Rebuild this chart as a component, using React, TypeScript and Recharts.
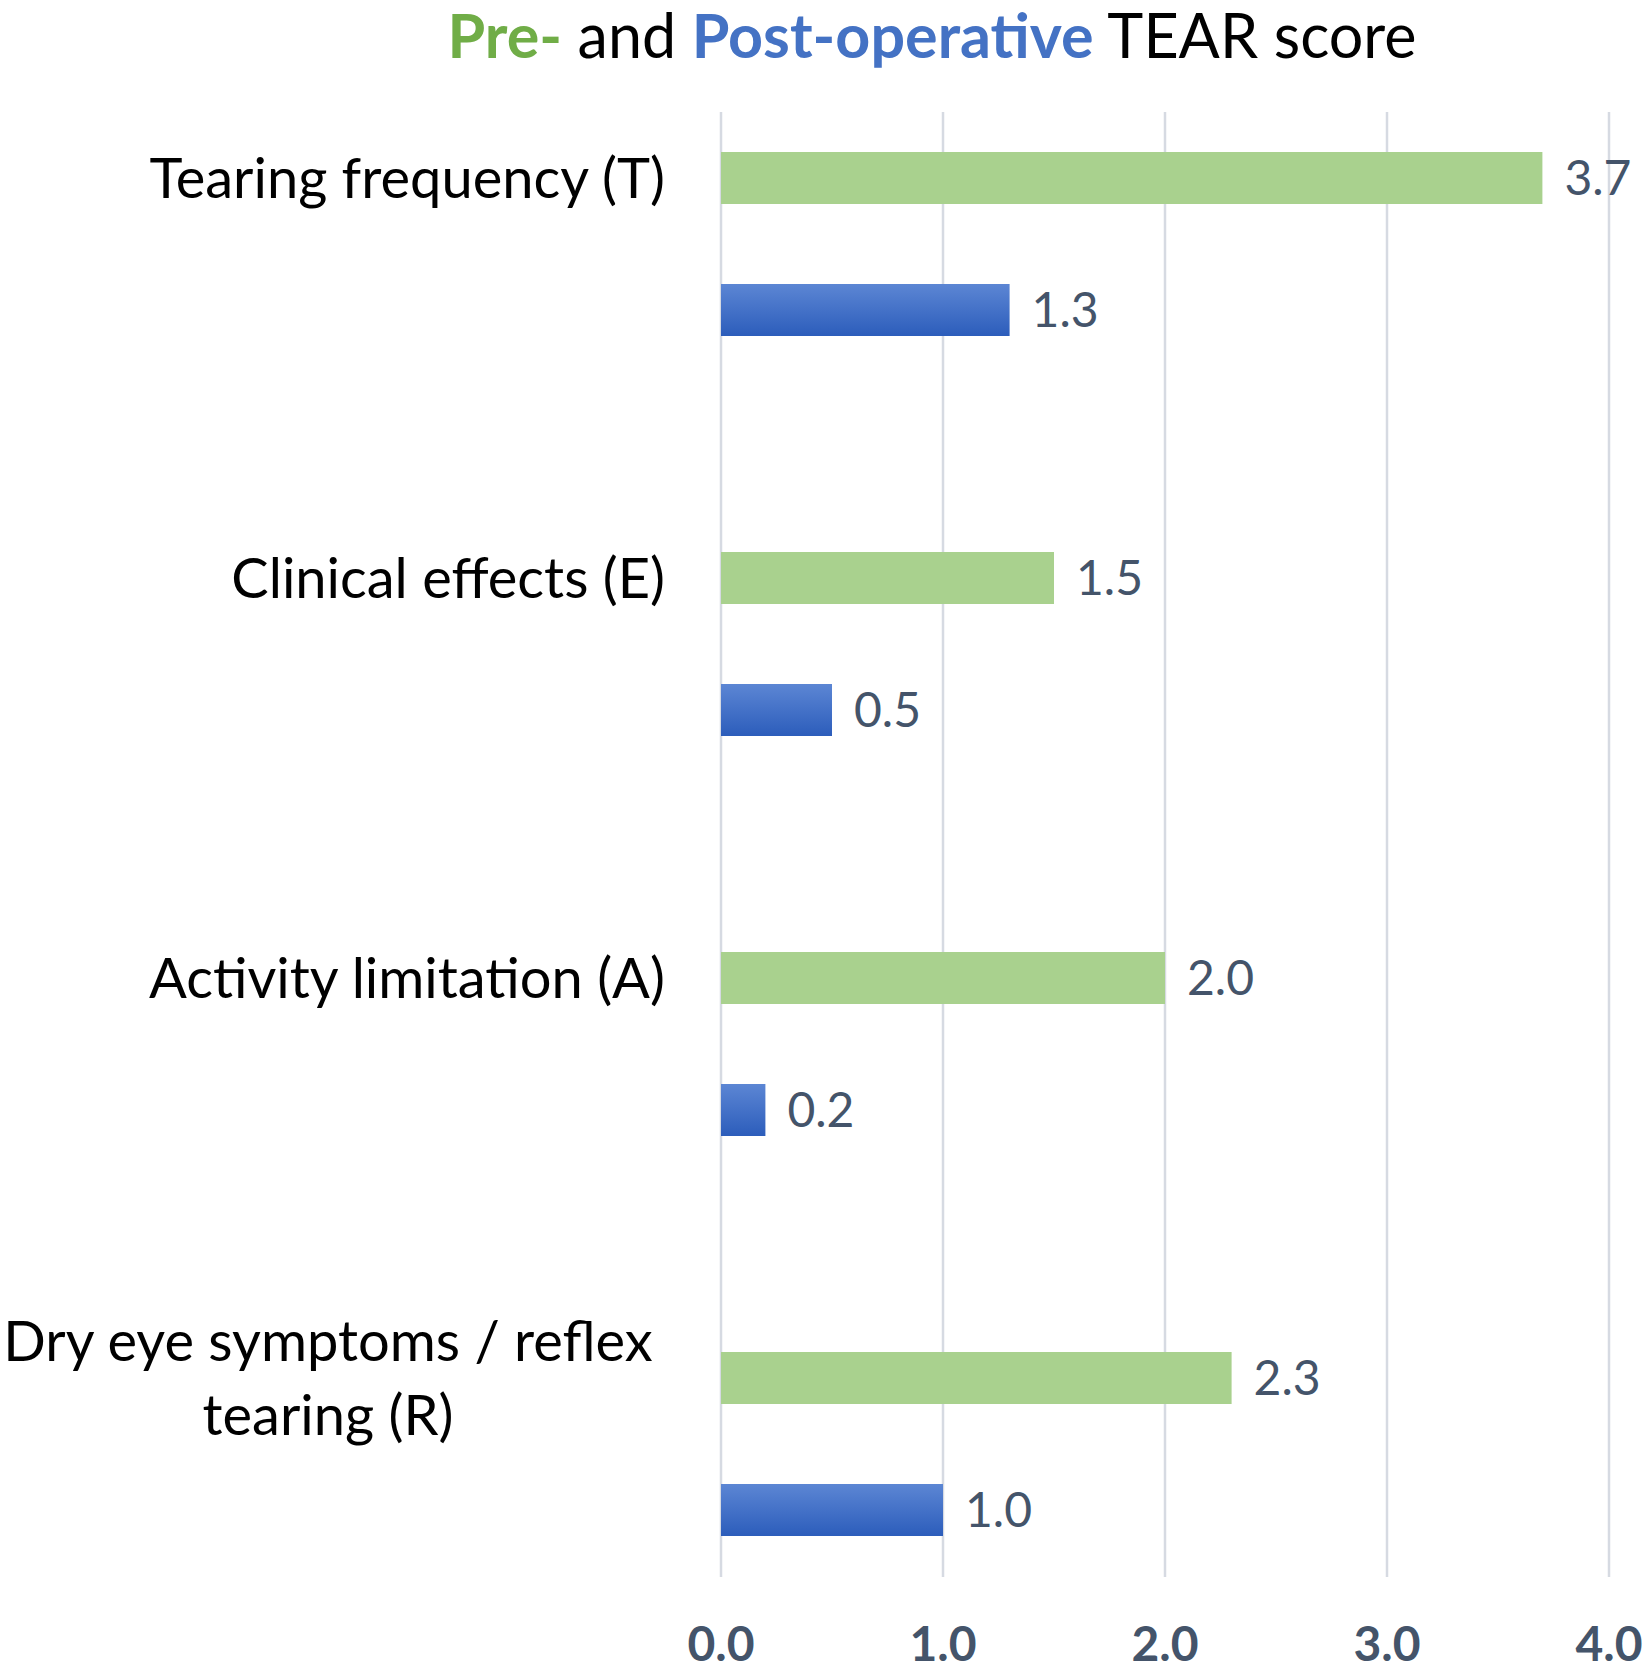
import { BarChart, Bar, XAxis, YAxis, CartesianGrid, LabelList } from "recharts";

const categories = [
  "Tearing frequency (T)",
  "Clinical effects (E)",
  "Activity limitation (A)",
  "Dry eye symptoms / reflex\ntearing (R)",
];
const preOp = [3.7, 1.5, 2.0, 2.3];
const postOp = [1.3, 0.5, 0.2, 1.0];
const xTicks = [0, 1, 2, 3, 4];

const data = categories.map((name, i) => ({ name, pre: preOp[i], post: postOp[i] }));

const FONT = "Lato, 'Open Sans', sans-serif";
const BAR = 52;
const GAP = 80;

// labels sit level with the first (Pre) bar of each group
const CategoryTick = ({ x, y, payload }: any) => {
  const lines = String(payload.value).split("\n");
  const cy = y - (BAR + GAP) / 2;
  if (lines.length === 1) {
    return (
      <text x={x - 56} y={cy} dy="0.36em" textAnchor="end" fill="#000" fontSize={56} fontFamily={FONT}>
        {lines[0]}
      </text>
    );
  }
  const lh = 74;
  const top = cy - ((lines.length - 1) * lh) / 2;
  return (
    <text textAnchor="middle" fill="#000" fontSize={56} fontFamily={FONT}>
      {lines.map((l, i) => (
        <tspan key={i} x={328} y={top + i * lh} dy="0.36em">
          {l}
        </tspan>
      ))}
    </text>
  );
};

export default function App() {
  return (
    <div style={{ position: "absolute", left: 0, top: 0, width: 1650, height: 1676, background: "#fff" }}>
      <div
        style={{
          position: "absolute",
          left: 932,
          top: 4,
          transform: "translateX(-50%)",
          whiteSpace: "nowrap",
          fontFamily: FONT,
          fontSize: 61,
          lineHeight: "61px",
          color: "#000",
        }}
      >
        <span style={{ color: "#70AD47", fontWeight: 700 }}>Pre-</span> and{" "}
        <span style={{ color: "#4472C4", fontWeight: 700 }}>Post-operative</span> TEAR score
      </div>
      <BarChart
        width={1650}
        height={1676}
        data={data}
        layout="vertical"
        margin={{ top: 112, right: 41, bottom: 0, left: 0 }}
        barSize={BAR}
        barGap={GAP}
      >
        <defs>
          <linearGradient id="postFill" x1="0" y1="0" x2="0" y2="1">
            <stop offset="0%" stopColor="#5C86D4" />
            <stop offset="100%" stopColor="#2C5DBB" />
          </linearGradient>
        </defs>
        <CartesianGrid horizontal={false} stroke="#D6DAE2" strokeWidth={2.5} />
        <XAxis
          type="number"
          domain={[0, 4]}
          ticks={xTicks}
          tickFormatter={(v: number) => v.toFixed(1)}
          axisLine={false}
          tickLine={false}
          tickSize={0}
          tickMargin={50}
          height={99}
          tick={{ fill: "#44546A", fontSize: 48, fontWeight: 700, fontFamily: FONT }}
        />
        <YAxis
          type="category"
          dataKey="name"
          width={721}
          axisLine={false}
          tickLine={false}
          tickSize={0}
          tickMargin={0}
          padding={{ top: -68, bottom: -67 }}
          tick={<CategoryTick />}
          interval={0}
        />
        <Bar dataKey="pre" fill="#A9D18E" isAnimationActive={false}>
          <LabelList
            dataKey="pre"
            position="right"
            offset={22}
            formatter={(v: any) => Number(v).toFixed(1)}
            style={{ fill: "#44546A", fontSize: 48, fontFamily: FONT }}
          />
        </Bar>
        <Bar dataKey="post" fill="url(#postFill)" isAnimationActive={false}>
          <LabelList
            dataKey="post"
            position="right"
            offset={22}
            formatter={(v: any) => Number(v).toFixed(1)}
            style={{ fill: "#44546A", fontSize: 48, fontFamily: FONT }}
          />
        </Bar>
      </BarChart>
    </div>
  );
}
